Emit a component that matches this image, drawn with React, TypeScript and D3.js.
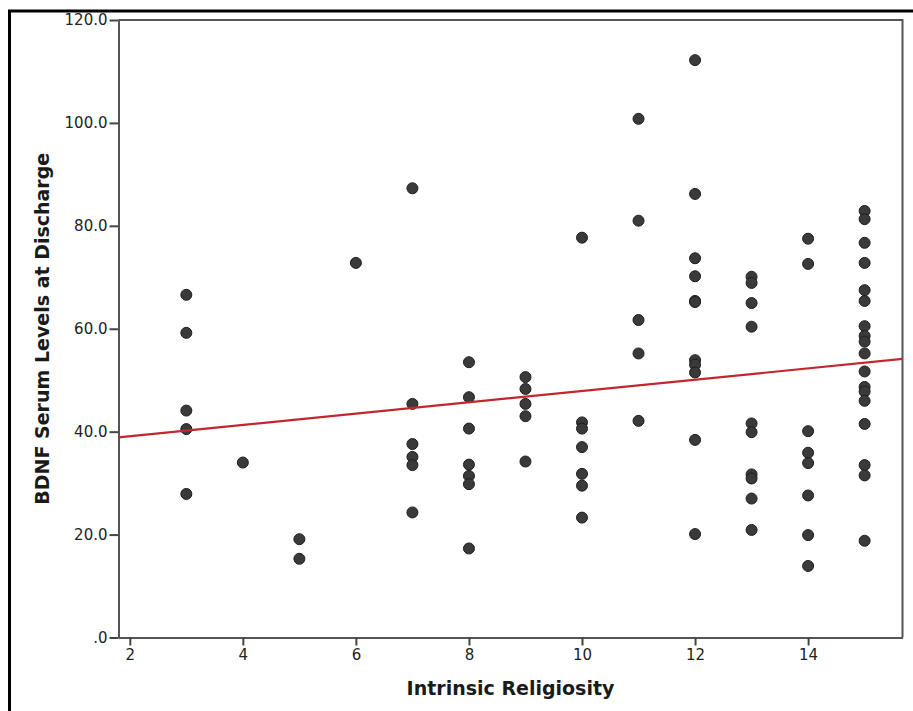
import React, { useEffect, useRef } from "react";
import * as d3 from "d3";

// Intrinsic Religiosity (x) and BDNF serum level at discharge (y)
const religiosity = [
  3, 3, 3, 3, 3,
  4,
  5, 5,
  6,
  7, 7, 7, 7, 7, 7,
  8, 8, 8, 8, 8, 8, 8,
  9, 9, 9, 9, 9,
  10, 10, 10, 10, 10, 10, 10,
  11, 11, 11, 11, 11,
  12, 12, 12, 12, 12, 12, 12, 12, 12, 12, 12,
  13, 13, 13, 13, 13, 13, 13, 13, 13, 13,
  14, 14, 14, 14, 14, 14, 14, 14,
  15, 15, 15, 15, 15, 15, 15, 15, 15, 15, 15, 15, 15, 15, 15, 15, 15, 15
];
const bdnf = [
  66.6, 59.2, 44.1, 40.5, 27.9,
  34.0,
  19.1, 15.3,
  72.8,
  87.3, 45.4, 37.6, 35.1, 33.5, 24.3,
  53.5, 46.7, 40.6, 33.6, 31.4, 29.8, 17.3,
  50.6, 48.3, 45.4, 43.0, 34.2,
  77.7, 41.8, 40.6, 37.0, 31.8, 29.5, 23.3,
  100.8, 81.0, 61.7, 55.2, 42.1,
  112.2, 86.2, 73.7, 70.2, 65.4, 65.2, 53.9, 53.0, 51.5, 38.4, 20.1,
  70.1, 68.9, 65.0, 60.4, 41.6, 39.9, 31.7, 30.9, 27.0, 20.9,
  77.5, 72.6, 40.1, 35.9, 33.9, 27.6, 19.9, 13.9,
  82.9, 81.3, 76.7, 72.8, 67.5, 65.4, 60.5, 58.6, 57.5, 55.2, 51.7, 48.7, 47.8, 46.0, 41.5, 33.5, 31.5, 18.8
];

const xTicks = [2, 4, 6, 8, 10, 12, 14];
const yTicks = [0, 20, 40, 60, 80, 100, 120];

// fit line: bdnf = intercept + slope * religiosity
const fitIntercept = 36.9;
const fitSlope = 1.1;

const W = 913;
const H = 711;
const plot = { left: 118.5, right: 902.5, top: 20, bottom: 637.5 };
const FONT = "'DejaVu Sans', Verdana, sans-serif";

const App = () => {
  const svgRef = useRef<SVGSVGElement>(null);

  useEffect(() => {
    const svg = d3.select(svgRef.current);
    svg.selectAll("*").remove();

    const x = d3.scaleLinear().domain([1.8, 15.67]).range([plot.left, plot.right]);
    const y = d3.scaleLinear().domain([0, 120]).range([plot.bottom, plot.top]);

    // outer frame
    svg
      .append("rect")
      .attr("x", 9.5)
      .attr("y", 11)
      .attr("width", W + 20)
      .attr("height", H + 20)
      .attr("fill", "none")
      .attr("stroke", "#000")
      .attr("stroke-width", 3);

    // plot box (top and right edges)
    svg
      .append("path")
      .attr("d", `M${plot.left},${plot.top}H${plot.right}V${plot.bottom}`)
      .attr("fill", "none")
      .attr("stroke", "#555")
      .attr("stroke-width", 2);

    // x axis
    const gx = svg
      .append("g")
      .attr("transform", `translate(0,${plot.bottom})`)
      .call(
        d3
          .axisBottom(x)
          .tickValues(xTicks)
          .tickSize(8)
          .tickPadding(4)
          .tickSizeOuter(0)
      );
    gx.select(".domain").attr("stroke", "#555").attr("stroke-width", 2);
    gx.selectAll(".tick line").attr("stroke", "#444").attr("stroke-width", 2);
    gx.selectAll(".tick text")
      .attr("font-family", FONT)
      .attr("font-size", 15)
      .attr("fill", "#222");

    // y axis
    const gy = svg
      .append("g")
      .attr("transform", `translate(${plot.left},0)`)
      .call(
        d3
          .axisLeft(y)
          .tickValues(yTicks)
          .tickSize(9)
          .tickPadding(2)
          .tickSizeOuter(0)
          .tickFormat((d) => (d === 0 ? ".0" : d3.format(".1f")(d as number)))
      );
    gy.select(".domain").attr("stroke", "#555").attr("stroke-width", 2);
    gy.selectAll(".tick line").attr("stroke", "#444").attr("stroke-width", 2);
    gy.selectAll(".tick text")
      .attr("font-family", FONT)
      .attr("font-size", 15)
      .attr("fill", "#222");

    // points
    svg
      .append("g")
      .selectAll("circle")
      .data(d3.zip(religiosity, bdnf))
      .enter()
      .append("circle")
      .attr("cx", (d) => x(d[0]))
      .attr("cy", (d) => y(d[1]))
      .attr("r", 5.5)
      .attr("fill", "#3a3a3a")
      .attr("stroke", "#1e1e1e")
      .attr("stroke-width", 1);

    // fit line
    const [x0, x1] = x.domain();
    svg
      .append("line")
      .attr("x1", x(x0))
      .attr("y1", y(fitIntercept + fitSlope * x0))
      .attr("x2", x(x1))
      .attr("y2", y(fitIntercept + fitSlope * x1))
      .attr("stroke", "#c1272d")
      .attr("stroke-width", 2.2);

    // axis titles
    svg
      .append("text")
      .attr("x", (plot.left + plot.right) / 2)
      .attr("y", 695)
      .attr("text-anchor", "middle")
      .attr("font-family", FONT)
      .attr("font-weight", "bold")
      .attr("font-size", 19)
      .attr("fill", "#1a1a1a")
      .text("Intrinsic Religiosity");

    svg
      .append("text")
      .attr("transform", `translate(49,${(plot.top + plot.bottom) / 2}) rotate(-90)`)
      .attr("text-anchor", "middle")
      .attr("font-family", FONT)
      .attr("font-weight", "bold")
      .attr("font-size", 19)
      .attr("fill", "#1a1a1a")
      .text("BDNF Serum Levels at Discharge");
  }, []);

  return (
    <div style={{ position: "absolute", left: 0, top: 0 }}>
      <svg ref={svgRef} width={W} height={H} style={{ display: "block", background: "#fff" }} />
    </div>
  );
};

export default App;
